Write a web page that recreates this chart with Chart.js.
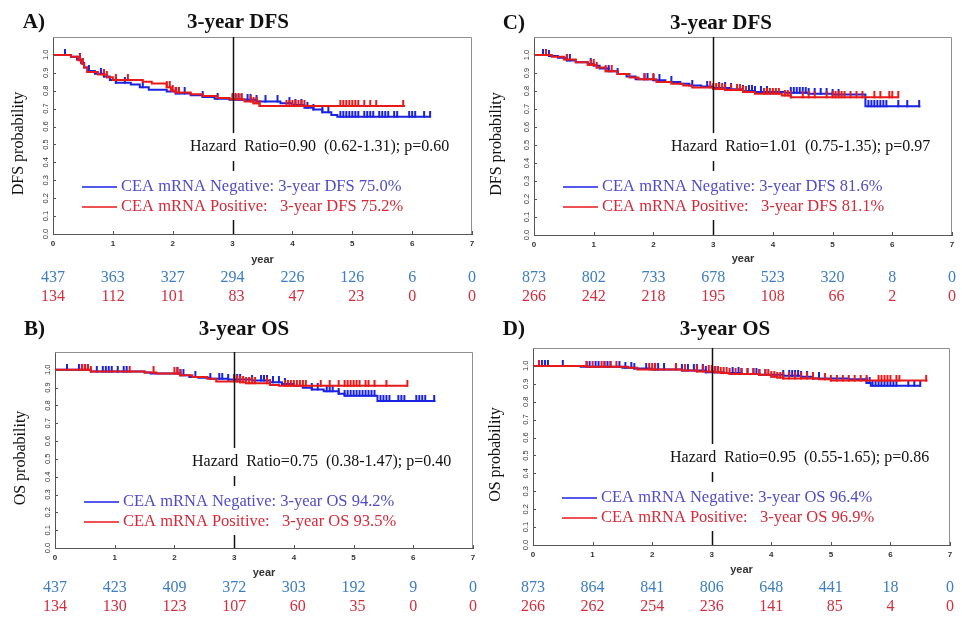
<!DOCTYPE html>
<html>
<head>
<meta charset="utf-8">
<script src="https://cdn.jsdelivr.net/npm/chart.js@4.4.1/dist/chart.umd.min.js"></script>
<style>
  html, body { margin: 0; padding: 0; background: #fff; }
  #wrap { position: relative; width: 962px; height: 617px; overflow: hidden; }
  #wrap canvas { position: absolute; }
</style>
</head>
<body>
<div id="wrap">
  <canvas id="panelA" width="480" height="310" style="left:0px;top:0px"></canvas>
  <canvas id="panelC" width="482" height="310" style="left:480px;top:0px"></canvas>
  <canvas id="panelB" width="480" height="307" style="left:0px;top:310px"></canvas>
  <canvas id="panelD" width="482" height="307" style="left:480px;top:310px"></canvas>
</div>
<script>
const years = [0, 1, 2, 3, 4, 5, 6, 7];
const probTicks = ['0.0', '0.1', '0.2', '0.3', '0.4', '0.5', '0.6', '0.7', '0.8', '0.9', '1.0'];

// A) 3-year DFS (n = 437 / 134)
const dfsA_negTime = [0, 0.3, 0.4, 0.47, 0.52, 0.58, 0.7, 0.85, 0.95, 1.05, 1.3, 1.45, 1.6, 1.9, 2.05, 2.3, 2.5, 2.7, 2.95, 3.4, 3.8, 4.0, 4.2, 4.35, 4.5, 4.65, 4.75, 6.3];
const dfsA_negSurv = [1, 0.99, 0.975, 0.955, 0.93, 0.91, 0.895, 0.88, 0.86, 0.845, 0.835, 0.82, 0.805, 0.795, 0.785, 0.775, 0.765, 0.755, 0.75, 0.74, 0.73, 0.72, 0.705, 0.695, 0.68, 0.665, 0.655, 0.655];
const dfsA_negCens = [0.2, 0.45, 0.6, 0.8, 0.85, 1.05, 1.2, 1.5, 2.05, 2.1, 2.2, 2.5, 2.75, 3.0, 3.05, 3.1, 3.15, 3.25, 3.3, 3.4, 3.55, 3.75, 3.95, 4.05, 4.15, 4.25, 4.35, 4.5, 4.6, 4.8, 4.85, 4.9, 4.95, 5.0, 5.05, 5.1, 5.2, 5.25, 5.3, 5.35, 5.45, 5.5, 5.55, 5.6, 5.7, 5.75, 5.95, 6.0, 6.05, 6.2, 6.3];
const dfsA_posTime = [0, 0.3, 0.42, 0.48, 0.52, 0.57, 0.75, 0.9, 1.0, 1.5, 1.65, 1.9, 1.97, 2.05, 2.3, 2.5, 2.75, 2.95, 3.2, 3.35, 3.45, 5.88];
const dfsA_posSurv = [1, 0.99, 0.97, 0.95, 0.93, 0.905, 0.89, 0.875, 0.86, 0.85, 0.84, 0.82, 0.8, 0.79, 0.78, 0.77, 0.76, 0.752, 0.74, 0.73, 0.715, 0.715];
const dfsA_posCens = [0.45, 0.5, 0.85, 0.9, 1.05, 1.25, 1.9, 1.95, 2.0, 2.05, 2.1, 3.0, 3.05, 3.1, 3.15, 3.3, 3.35, 3.4, 3.45, 3.9, 3.95, 4.0, 4.05, 4.1, 4.15, 4.2, 4.8, 4.85, 4.9, 4.95, 5.0, 5.05, 5.1, 5.2, 5.3, 5.4, 5.85];
const riskA_neg = [437, 363, 327, 294, 226, 126, 6, 0];
const riskA_pos = [134, 112, 101, 83, 47, 23, 0, 0];

// C) 3-year DFS (n = 873 / 266)
const dfsC_negTime = [0, 0.25, 0.4, 0.55, 0.7, 0.9, 1.0, 1.1, 1.25, 1.4, 1.55, 1.7, 2.0, 2.2, 2.45, 2.6, 2.8, 3.0, 3.3, 3.5, 3.7, 4.2, 4.6, 5.0, 5.55, 6.47];
const dfsC_negSurv = [1, 0.995, 0.985, 0.97, 0.96, 0.95, 0.94, 0.925, 0.91, 0.895, 0.88, 0.865, 0.86, 0.85, 0.84, 0.83, 0.825, 0.816, 0.81, 0.8, 0.795, 0.79, 0.785, 0.78, 0.715, 0.715];
const dfsC_negCens = [0.15, 0.2, 0.25, 0.55, 0.6, 0.95, 1.25, 1.4, 1.85, 1.9, 2.0, 2.1, 2.3, 2.65, 2.9, 3.1, 3.2, 3.3, 3.5, 3.6, 3.65, 3.7, 3.8, 3.9, 4.3, 4.35, 4.4, 4.45, 4.5, 4.55, 4.6, 4.7, 4.8, 4.9, 5.0, 5.1, 5.6, 5.65, 5.7, 5.75, 5.8, 5.85, 5.9, 6.1, 6.25, 6.45];
const dfsC_posTime = [0, 0.3, 0.5, 0.7, 0.9, 1.05, 1.2, 1.4, 1.6, 1.75, 2.05, 2.3, 2.5, 2.65, 3.0, 3.2, 3.5, 3.7, 4.15, 4.3, 6.1];
const dfsC_posSurv = [1, 0.99, 0.975, 0.96, 0.945, 0.93, 0.91, 0.895, 0.875, 0.865, 0.85, 0.84, 0.83, 0.82, 0.811, 0.805, 0.795, 0.785, 0.775, 0.765, 0.765];
const dfsC_posCens = [0.2, 0.55, 0.95, 1.0, 1.05, 1.2, 1.3, 1.85, 2.0, 2.95, 3.0, 3.05, 3.1, 3.15, 3.2, 3.3, 3.4, 3.45, 3.5, 3.55, 3.85, 3.9, 3.95, 4.0, 4.05, 4.1, 4.2, 4.25, 4.3, 4.5, 4.6, 4.7, 4.9, 5.0, 5.05, 5.1, 5.15, 5.2, 5.3, 5.4, 5.5, 5.7, 5.8, 5.95, 6.0, 6.1];
const riskC_neg = [873, 802, 733, 678, 523, 320, 8, 0];
const riskC_pos = [266, 242, 218, 195, 108, 66, 2, 0];

// B) 3-year OS (n = 437 / 134)
const osB_negTime = [0, 0.6, 1.5, 1.6, 2.1, 2.25, 2.4, 2.6, 2.9, 3.3, 3.6, 3.8, 4.0, 4.15, 4.3, 4.5, 4.75, 4.85, 5.4, 6.37];
const osB_negSurv = [1, 0.99, 0.985, 0.98, 0.97, 0.96, 0.955, 0.95, 0.945, 0.94, 0.93, 0.92, 0.91, 0.9, 0.89, 0.88, 0.865, 0.855, 0.825, 0.825];
const osB_negCens = [0.2, 0.4, 0.45, 0.5, 0.55, 0.7, 0.8, 0.85, 0.9, 0.95, 1.05, 1.15, 1.2, 2.05, 2.1, 2.15, 2.35, 2.6, 2.75, 2.8, 2.9, 3.0, 3.05, 3.1, 3.3, 3.45, 3.5, 3.55, 3.65, 3.75, 3.85, 4.3, 4.4, 4.55, 4.6, 4.65, 4.75, 4.85, 4.9, 4.95, 5.0, 5.05, 5.1, 5.15, 5.2, 5.25, 5.3, 5.35, 5.45, 5.5, 5.55, 5.6, 5.75, 5.8, 5.85, 6.05, 6.1, 6.15, 6.2, 6.35];
const osB_posTime = [0, 0.6, 1.5, 1.7, 2.1, 2.3, 2.55, 2.7, 3.1, 3.2, 3.6, 3.75, 5.9];
const osB_posSurv = [1, 0.99, 0.985, 0.98, 0.97, 0.96, 0.95, 0.935, 0.93, 0.925, 0.915, 0.91, 0.91];
const osB_posCens = [0.45, 0.5, 0.55, 0.6, 1.25, 1.65, 2.0, 2.05, 2.1, 3.0, 3.05, 3.1, 3.15, 3.2, 3.25, 3.3, 3.35, 3.55, 3.6, 3.85, 3.9, 3.95, 4.0, 4.05, 4.1, 4.15, 4.2, 4.45, 4.6, 4.75, 4.85, 4.9, 4.95, 5.0, 5.05, 5.1, 5.2, 5.25, 5.35, 5.55, 5.9];
const riskB_neg = [437, 423, 409, 372, 303, 192, 9, 0];
const riskB_pos = [134, 130, 123, 107, 60, 35, 0, 0];

// D) 3-year OS (n = 873 / 266)
const osD_negTime = [0, 0.8, 1.5, 1.7, 2.0, 2.5, 2.9, 3.2, 3.5, 3.8, 4.2, 4.5, 4.7, 5.3, 5.6, 5.67, 6.51];
const osD_negSurv = [1, 0.995, 0.99, 0.985, 0.98, 0.975, 0.964, 0.96, 0.955, 0.95, 0.945, 0.94, 0.93, 0.925, 0.905, 0.889, 0.889];
const osD_negCens = [0.15, 0.2, 0.25, 0.5, 0.9, 0.95, 1.05, 1.1, 1.2, 1.25, 1.3, 1.45, 1.55, 1.65, 1.7, 1.9, 2.05, 2.1, 2.2, 2.5, 2.6, 2.7, 2.75, 2.85, 2.9, 3.05, 3.1, 3.35, 3.45, 3.5, 3.6, 3.7, 3.75, 3.8, 3.9, 4.2, 4.3, 4.35, 4.4, 4.45, 4.5, 4.6, 4.7, 4.8, 5.6, 5.65, 5.7, 5.75, 5.8, 5.85, 5.9, 5.95, 6.0, 6.05, 6.1, 6.3, 6.4, 6.5];
const osD_posTime = [0, 0.9, 1.6, 1.75, 2.5, 2.75, 3.05, 3.15, 3.3, 3.8, 4.0, 4.1, 4.2, 4.8, 5.0, 6.62];
const osD_posSurv = [1, 0.995, 0.99, 0.98, 0.975, 0.969, 0.965, 0.96, 0.955, 0.95, 0.94, 0.935, 0.93, 0.925, 0.918, 0.918];
const osD_posCens = [0.1, 0.9, 1.0, 1.15, 1.2, 1.3, 1.4, 1.95, 2.0, 2.05, 2.4, 2.55, 2.75, 2.85, 2.95, 3.0, 3.05, 3.1, 3.15, 3.2, 3.25, 3.3, 3.4, 3.5, 3.6, 3.7, 3.8, 3.9, 3.95, 4.0, 4.05, 4.1, 4.15, 4.2, 4.3, 4.4, 4.5, 4.6, 4.7, 4.9, 5.0, 5.1, 5.2, 5.3, 5.4, 5.5, 5.6, 5.8, 5.85, 5.9, 5.95, 6.0, 6.1, 6.15, 6.6];
const riskD_neg = [873, 864, 841, 806, 648, 441, 18, 0];
const riskD_pos = [266, 262, 254, 236, 141, 85, 4, 0];

const BLUE = 'rgb(25,35,225)';
const RED = 'rgb(232,25,25)';
const SERIF = '"Liberation Serif", "Times New Roman", serif';
const SANS = '"Liberation Sans", Arial, sans-serif';

// survival value in force at time t (for placing censor marks on the curve)
function survAt(times, surv, t) {
    let s = surv[0];
    for (let i = 0; i < times.length; i++) {
        if (times[i] <= t) s = surv[i];
    }
    return s;
}

// small upward tick used as censor marker
function censorMark(color) {
    const c = document.createElement('canvas');
    c.width = 4;
    c.height = 12;
    const g = c.getContext('2d');
    g.fillStyle = color;
    g.fillRect(1, 0, 2, 7);
    return c;
}

function makePanel(id, cfg) {
    const curve = (times, surv, color) => ({
        data: times.map((t, i) => ({ x: t, y: surv[i] })),
        borderColor: color,
        borderWidth: 2,
        stepped: 'before',
        pointRadius: 0,
        fill: false,
    });
    const cens = (times, surv, marks, color) => ({
        data: marks.map(t => ({ x: t, y: survAt(times, surv, t) })),
        showLine: false,
        pointStyle: censorMark(color),
        pointRadius: 3,
    });

    const decor = {
        id: 'decor',
        afterDraw(chart) {
            const { ctx, chartArea: a, scales: { x, y } } = chart;
            ctx.save();

            // top / right frame
            ctx.strokeStyle = '#8f8f8f';
            ctx.lineWidth = 1;
            ctx.beginPath();
            ctx.moveTo(a.left, a.top + 0.5);
            ctx.lineTo(a.right - 0.5, a.top + 0.5);
            ctx.lineTo(a.right - 0.5, a.bottom);
            ctx.stroke();

            // x ticks + labels
            ctx.strokeStyle = '#555';
            ctx.fillStyle = '#333';
            ctx.font = 'bold 8px ' + SANS;
            ctx.textAlign = 'center';
            ctx.textBaseline = 'middle';
            years.forEach(v => {
                const px = x.getPixelForValue(v);
                ctx.beginPath();
                ctx.moveTo(Math.round(px) + 0.5, a.bottom);
                ctx.lineTo(Math.round(px) + 0.5, a.bottom - 3);
                ctx.stroke();
                ctx.fillText(String(v), px, a.bottom + 10);
            });

            // y ticks + rotated labels
            ctx.font = '7.5px ' + SANS;
            probTicks.forEach(lbl => {
                const py = y.getPixelForValue(parseFloat(lbl));
                ctx.beginPath();
                ctx.moveTo(a.left, Math.round(py) + 0.5);
                ctx.lineTo(a.left + 3, Math.round(py) + 0.5);
                ctx.stroke();
                ctx.save();
                ctx.translate(a.left - 7, py);
                ctx.rotate(-Math.PI / 2);
                ctx.fillText(lbl, 0, 0);
                ctx.restore();
            });

            // reference line at 3 years
            const x3 = Math.round(x.getPixelForValue(3)) + 0.5;
            ctx.strokeStyle = '#111';
            ctx.lineWidth = 1.5;
            ctx.beginPath();
            ctx.moveTo(x3, a.top);
            ctx.lineTo(x3, a.bottom);
            ctx.stroke();

            // hazard ratio text box
            ctx.font = '16px ' + SERIF;
            ctx.textAlign = 'left';
            const hrW = ctx.measureText(cfg.hr).width;
            ctx.fillStyle = '#fff';
            ctx.fillRect(a.left + 134, a.top + 96, hrW + 6, 28);
            ctx.fillStyle = '#111';
            ctx.fillText(cfg.hr, a.left + 137, a.top + 110);

            // legend box
            ctx.font = '16.5px ' + SERIF;
            const lgW = Math.max(ctx.measureText(cfg.legend[0]).width, ctx.measureText(cfg.legend[1]).width);
            ctx.fillStyle = '#fff';
            ctx.fillRect(a.left + 27, a.top + 134, lgW + 44, 49);
            const rows = [
                { y: a.top + 150, line: BLUE, text: 'rgb(80,75,200)' },
                { y: a.top + 170, line: RED, text: 'rgb(215,40,55)' },
            ];
            rows.forEach((r, i) => {
                ctx.strokeStyle = r.line;
                ctx.lineWidth = 1.5;
                ctx.beginPath();
                ctx.moveTo(a.left + 29, r.y);
                ctx.lineTo(a.left + 64, r.y);
                ctx.stroke();
                ctx.fillStyle = r.text;
                ctx.fillText(cfg.legend[i], a.left + 68, r.y);
            });

            // panel letter + title
            ctx.fillStyle = '#111';
            ctx.font = 'bold 21px ' + SERIF;
            ctx.textBaseline = 'alphabetic';
            ctx.textAlign = 'right';
            ctx.fillText(cfg.letter, 45, cfg.titleY);
            ctx.textAlign = 'center';
            ctx.fillText(cfg.title, cfg.titleX, cfg.titleY);

            // y axis title
            ctx.font = '16px ' + SERIF;
            ctx.textBaseline = 'middle';
            ctx.save();
            ctx.translate(cfg.ylabelX, (a.top + a.bottom) / 2 + 8);
            ctx.rotate(-Math.PI / 2);
            ctx.fillText(cfg.ylabel, 0, 0);
            ctx.restore();

            // x axis title
            ctx.font = 'bold 11px ' + SANS;
            ctx.fillStyle = '#333';
            ctx.fillText('year', x.getPixelForValue(3.5), cfg.yearY);

            // numbers at risk
            ctx.font = '16px ' + SERIF;
            const half3 = ctx.measureText('000').width / 2;
            [[cfg.riskNeg, 'rgb(60,125,195)', 278], [cfg.riskPos, 'rgb(212,45,60)', 297]].forEach(([vals, col, ry]) => {
                ctx.fillStyle = col;
                vals.forEach((n, i) => {
                    const px = x.getPixelForValue(years[i]);
                    if (i < 6) {
                        ctx.textAlign = 'right';
                        ctx.fillText(String(n), px + half3, ry);
                    } else {
                        ctx.textAlign = 'center';
                        ctx.fillText(String(n), px, ry);
                    }
                });
            });

            ctx.restore();
        }
    };

    return new Chart(document.getElementById(id), {
        type: 'line',
        data: {
            datasets: [
                curve(cfg.posTime, cfg.posSurv, RED),
                cens(cfg.posTime, cfg.posSurv, cfg.posCens, RED),
                curve(cfg.negTime, cfg.negSurv, BLUE),
                cens(cfg.negTime, cfg.negSurv, cfg.negCens, BLUE),
            ]
        },
        options: {
            responsive: false,
            animation: false,
            events: [],
            layout: { padding: cfg.pad },
            plugins: {
                legend: { display: false },
                tooltip: { enabled: false },
            },
            scales: {
                x: {
                    type: 'linear',
                    min: 0,
                    max: 7,
                    grid: { display: false, drawTicks: false },
                    border: { color: '#555' },
                    ticks: { display: false },
                },
                y: {
                    type: 'linear',
                    min: 0,
                    max: 1.1,
                    grid: { display: false, drawTicks: false },
                    border: { color: '#555' },
                    ticks: { display: false },
                },
            }
        },
        plugins: [decor]
    });
}

makePanel('panelA', {
    letter: 'A)', title: '3-year DFS', titleX: 238, titleY: 28, ylabel: 'DFS probability', ylabelX: 19, yearY: 260,
    pad: { left: 53, top: 37, right: 8, bottom: 76 },
    hr: 'Hazard  Ratio=0.90  (0.62-1.31); p=0.60',
    legend: ['CEA mRNA Negative: 3-year DFS 75.0%', 'CEA mRNA Positive:   3-year DFS 75.2%'],
    negTime: dfsA_negTime, negSurv: dfsA_negSurv, negCens: dfsA_negCens,
    posTime: dfsA_posTime, posSurv: dfsA_posSurv, posCens: dfsA_posCens,
    riskNeg: riskA_neg, riskPos: riskA_pos,
});

makePanel('panelC', {
    letter: 'C)', title: '3-year DFS', titleX: 241, titleY: 29, ylabel: 'DFS probability', ylabelX: 17, yearY: 259,
    pad: { left: 54, top: 37, right: 10, bottom: 75 },
    hr: 'Hazard  Ratio=1.01  (0.75-1.35); p=0.97',
    legend: ['CEA mRNA Negative: 3-year DFS 81.6%', 'CEA mRNA Positive:   3-year DFS 81.1%'],
    negTime: dfsC_negTime, negSurv: dfsC_negSurv, negCens: dfsC_negCens,
    posTime: dfsC_posTime, posSurv: dfsC_posSurv, posCens: dfsC_posCens,
    riskNeg: riskC_neg, riskPos: riskC_pos,
});

makePanel('panelB', {
    letter: 'B)', title: '3-year OS', titleX: 244, titleY: 25, ylabel: 'OS probability', ylabelX: 21, yearY: 263,
    pad: { left: 55, top: 42, right: 7, bottom: 69 },
    hr: 'Hazard  Ratio=0.75  (0.38-1.47); p=0.40',
    legend: ['CEA mRNA Negative: 3-year OS 94.2%', 'CEA mRNA Positive:   3-year OS 93.5%'],
    negTime: osB_negTime, negSurv: osB_negSurv, negCens: osB_negCens,
    posTime: osB_posTime, posSurv: osB_posSurv, posCens: osB_posCens,
    riskNeg: riskB_neg, riskPos: riskB_pos,
});

makePanel('panelD', {
    letter: 'D)', title: '3-year OS', titleX: 245, titleY: 25, ylabel: 'OS probability', ylabelX: 16, yearY: 260,
    pad: { left: 53, top: 38, right: 12, bottom: 72 },
    hr: 'Hazard  Ratio=0.95  (0.55-1.65); p=0.86',
    legend: ['CEA mRNA Negative: 3-year OS 96.4%', 'CEA mRNA Positive:   3-year OS 96.9%'],
    negTime: osD_negTime, negSurv: osD_negSurv, negCens: osD_negCens,
    posTime: osD_posTime, posSurv: osD_posSurv, posCens: osD_posCens,
    riskNeg: riskD_neg, riskPos: riskD_pos,
});
</script>
</body>
</html>
